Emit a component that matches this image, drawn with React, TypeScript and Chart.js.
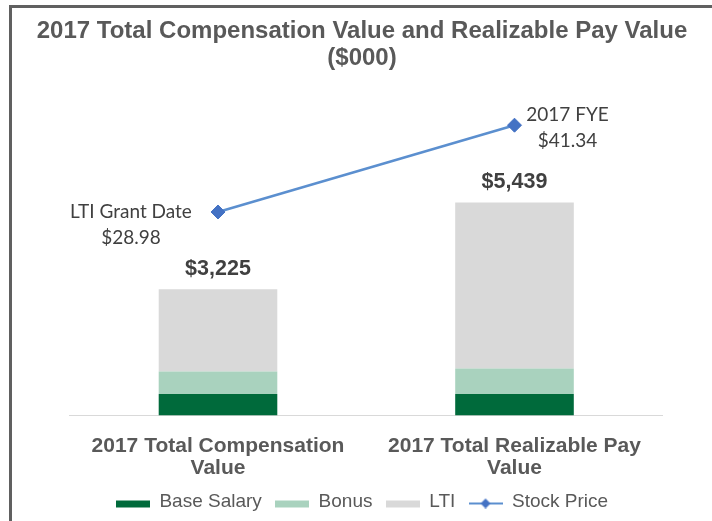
import React, { useEffect, useRef } from 'react';
import { Chart, registerables } from 'chart.js';

Chart.register(...registerables);

// ---- data ----
const categories: string[][] = [
  ['2017 Total Compensation', 'Value'],
  ['2017 Total Realizable Pay', 'Value'],
];
const seriesNames = ['Base Salary', 'Bonus', 'LTI', 'Stock Price'];
const baseSalary = [546, 546];
const bonus = [576, 655];
const lti = [2103, 4238];
const stockPrice = [28.98, 41.34];
const stockPointNames = ['LTI Grant Date', '2017 FYE'];
const titleLines = ['2017 Total Compensation Value and Realizable Pay Value', '($000)'];

// ---- styles ----
const ARIAL = "'Liberation Sans', Arial, sans-serif";
const colors = {
  base: '#006a3b',
  bonus: '#a9d2be',
  lti: '#d9d9d9',
  line: '#5b8fcf',
  marker: '#4472c4',
  title: '#595959',
  label: '#404040',
};
const pointLabelOffsets = [
  { dx: -87, dy1: 0, dy2: 26 },
  { dx: 53, dy1: -10, dy2: 16 },
];

function boxImg(color: string) {
  const c = document.createElement('canvas');
  c.width = 34;
  c.height = 14;
  const g = c.getContext('2d')!;
  g.fillStyle = color;
  g.fillRect(0, 6, 34, 7);
  return c;
}
function lineImg() {
  const c = document.createElement('canvas');
  c.width = 34;
  c.height = 14;
  const g = c.getContext('2d')!;
  g.strokeStyle = colors.line;
  g.lineWidth = 2;
  g.beginPath();
  g.moveTo(0, 9);
  g.lineTo(34, 9);
  g.stroke();
  g.fillStyle = colors.marker;
  g.beginPath();
  g.moveTo(17, 4);
  g.lineTo(22, 9);
  g.lineTo(17, 14);
  g.lineTo(12, 9);
  g.closePath();
  g.fill();
  return c;
}

const labelsPlugin = {
  id: 'valueLabels',
  afterDatasetsDraw(chart: any) {
    const ctx = chart.ctx;
    const yScale = chart.scales.y;
    const topMeta = chart.getDatasetMeta(2);
    ctx.save();
    ctx.textAlign = 'center';
    ctx.textBaseline = 'middle';
    ctx.fillStyle = colors.label;
    ctx.font = `bold 21.5px ${ARIAL}`;
    categories.forEach((_, i) => {
      const total = baseSalary[i] + bonus[i] + lti[i];
      const el = topMeta.data[i];
      ctx.fillText('$' + total.toLocaleString('en-US'), el.x, yScale.getPixelForValue(total) - 20);
    });
    const lineMeta = chart.getDatasetMeta(3);
    ctx.font = `19px Lato, 'Open Sans', sans-serif`;
    lineMeta.data.forEach((pt: any, i: number) => {
      const off = pointLabelOffsets[i];
      ctx.fillText(stockPointNames[i], pt.x + off.dx, pt.y + off.dy1);
      ctx.fillText('$' + stockPrice[i].toFixed(2), pt.x + off.dx, pt.y + off.dy2);
    });
    ctx.restore();
  },
};

export default function App() {
  const ref = useRef<HTMLCanvasElement>(null);
  useEffect(() => {
    const canvas = ref.current;
    if (!canvas) return;
    const imgs = [boxImg(colors.base), boxImg(colors.bonus), boxImg(colors.lti), lineImg()];
    const chart = new Chart(canvas, {
      type: 'bar',
      data: {
        labels: categories,
        datasets: [
          { type: 'bar', label: seriesNames[0], data: baseSalary, backgroundColor: colors.base, stack: 's', order: 1, yAxisID: 'y' },
          { type: 'bar', label: seriesNames[1], data: bonus, backgroundColor: colors.bonus, stack: 's', order: 1, yAxisID: 'y' },
          { type: 'bar', label: seriesNames[2], data: lti, backgroundColor: colors.lti, stack: 's', order: 1, yAxisID: 'y' },
          {
            type: 'line',
            label: seriesNames[3],
            data: stockPrice,
            yAxisID: 'y2',
            order: 0,
            borderColor: colors.line,
            borderWidth: 2.5,
            pointStyle: 'rectRot',
            pointRadius: 7,
            pointBackgroundColor: colors.marker,
            pointBorderColor: colors.marker,
            pointBorderWidth: 1,
            clip: false as any,
          } as any,
        ],
      },
      options: {
        responsive: false,
        animation: false,
        datasets: { bar: { barPercentage: 0.4, categoryPercentage: 1 } },
        layout: { padding: { left: 0, right: 0, top: 0, bottom: 0 } },
        scales: {
          x: {
            stacked: true,
            grid: { display: false, drawTicks: false },
            border: { display: true, color: '#d9d9d9', width: 1 },
            ticks: {
              autoSkip: false,
              maxRotation: 0,
              minRotation: 0,
              padding: 20.25,
              color: colors.title,
              font: { family: ARIAL, size: 21, weight: 'bold', lineHeight: '21.5px' } as any,
            },
            afterFit: (s: any) => { s.height = 63.25; },
          },
          y: {
            stacked: true,
            display: true,
            min: 0,
            max: 8070,
            grid: { display: false, drawTicks: false },
            border: { display: false },
            ticks: { display: false },
            afterFit: (s: any) => { s.width = 57.75; },
          },
          y2: {
            position: 'right',
            display: true,
            min: 0,
            max: 45,
            grid: { display: false, drawTicks: false },
            border: { display: false },
            ticks: { display: false },
            afterFit: (s: any) => { s.width = 49.25; },
          },
        },
        plugins: {
          tooltip: { enabled: false },
          title: {
            display: true,
            text: titleLines,
            color: colors.title,
            font: { family: ARIAL, size: 24, weight: 'bold', lineHeight: '27px' } as any,
            padding: { top: 11, bottom: 27.5 },
          },
          legend: {
            position: 'bottom',
            labels: {
              usePointStyle: true,
              pointStyleWidth: 34,
              padding: 13.25,
              color: colors.title,
              font: { family: ARIAL, size: 19 },
              generateLabels: (ch: any) => {
                const items = (Chart.defaults.plugins.legend.labels as any).generateLabels(ch);
                items.sort((a: any, b: any) => a.datasetIndex - b.datasetIndex);
                return items.map((it: any) => ({ ...it, pointStyle: imgs[it.datasetIndex] }));
              },
            },
          },
        },
      },
      plugins: [labelsPlugin],
    } as any);
    return () => chart.destroy();
  }, []);

  return (
    <div style={{ position: 'fixed', left: 0, top: 0, width: 712, height: 521, background: '#fff' }}>
      <div
        style={{
          position: 'absolute',
          left: 9,
          top: 5,
          width: 703,
          height: 516,
          boxSizing: 'border-box',
          borderTop: '3px solid #606060',
          borderLeft: '3px solid #606060',
        }}
      />
      <canvas
        ref={ref}
        width={700}
        height={514}
        style={{ position: 'absolute', left: 12, top: 7, width: 700, height: 514 }}
      />
    </div>
  );
}
